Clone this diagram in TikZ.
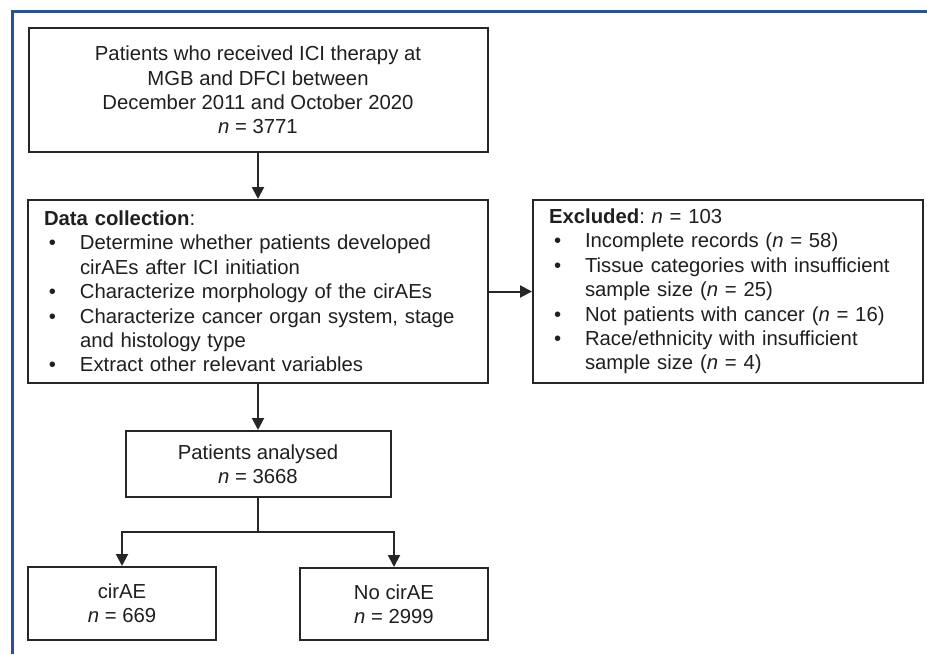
\documentclass[tikz,border=0pt]{standalone}
\usepackage{fontspec}
\setmainfont{Liberation Sans}
\usetikzlibrary{arrows.meta}
\definecolor{frameblue}{HTML}{2C4F9C}
\definecolor{linegray}{HTML}{262626}
\newcommand{\bul}{\hspace*{5pt}\makebox[31pt][l]{•}}
\newcommand{\cont}{\hspace*{36pt}}
\frenchspacing
\begin{document}
\begin{tikzpicture}[x=1pt,y=-1pt,
  every node/.style={font=\fontsize{20.3}{24.4}\selectfont, text=black!88},
  box/.style={draw=linegray, line width=2pt, rectangle, inner sep=0pt, align=center},
  listbox/.style={draw=linegray, line width=2pt, rectangle, inner xsep=16pt, inner ysep=0pt, align=left},
  arr/.style={draw=linegray, line width=2pt, -{Triangle[length=12pt,width=12pt]}},
  link/.style={draw=linegray, line width=2pt}
]
\useasboundingbox (0,0) rectangle (927,654);
\fill[white] (0,0) rectangle (927,654);
% blue frame (top and left only)
\draw[frameblue, line width=3pt] (12,654) -- (12,11) -- (927,11);

\node[box, minimum width=459pt, minimum height=124pt] (b1) at (258,90)
  {Patients who received ICI therapy at\\MGB and DFCI between\\December 2011 and October 2020\\\textit{n} = 3771};

\node[listbox, minimum width=460pt, minimum height=183pt, text width=428pt] (b2) at (258,291.5)
  {\textbf{Data collection}:\\
   \bul Determine whether patients developed\\
   \cont cirAEs after ICI initiation\\
   \bul Characterize morphology of the cirAEs\\
   \bul Characterize cancer organ system, stage\\
   \cont and histology type\\
   \bul Extract other relevant variables};

\node[listbox, minimum width=390pt, minimum height=183pt, text width=358pt] (ex) at (728,291.5)
  {\textbf{Excluded}: \textit{n} = 103\\
   \bul Incomplete records (\textit{n} = 58)\\
   \bul Tissue categories with insufficient\\
   \cont sample size (\textit{n} = 25)\\
   \bul Not patients with cancer (\textit{n} = 16)\\
   \bul Race/ethnicity with insufficient\\
   \cont sample size (\textit{n} = 4)};

\node[box, minimum width=265pt, minimum height=66pt] (b3) at (258,464)
  {Patients analysed\\\textit{n} = 3668};

\node[box, minimum width=188pt, minimum height=73pt] (c1) at (122,603.5)
  {cirAE\\\textit{n} = 669};
\node[box, minimum width=188pt, minimum height=72pt] (c2) at (394,604)
  {No cirAE\\\textit{n} = 2999};

\coordinate (split) at (258,532);

\draw[arr] (b1.south) -- (b2.north);
\draw[arr] (b2.east) -- (ex.west);
\draw[arr] (b2.south) -- (b3.north);
\draw[link] (b3.south) -- (split);
\draw[arr] (split) -| (c1.north);
\draw[arr] (split) -| (c2.north);
\end{tikzpicture}
\end{document}
